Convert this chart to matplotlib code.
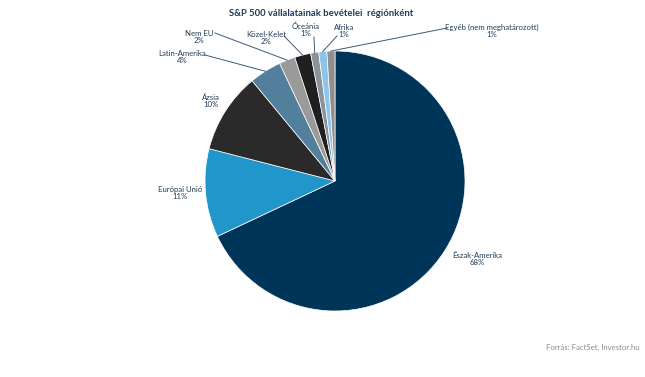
import numpy as np
import matplotlib
matplotlib.use('Agg')
import matplotlib.pyplot as plt

plt.rcParams['font.family'] = ['Lato', 'DejaVu Sans']

# data
regions = ['Észak-Amerika', 'Európai Unió', 'Ázsia', 'Latin-Amerika', 'Nem EU',
           'Közel-Kelet', 'Óceánia', 'Afrika', 'Egyéb (nem meghatározott)']
shares = [68, 11, 10, 4, 2, 2, 1, 1, 1]
colors = ['#00355a', '#2196ca', '#2a2a2a', '#527f9c', '#9a9a9a',
          '#1f1f1f', '#8a939c', '#8ec4ea', '#8f8f8f']

# label text positions (pixels, from the top) and leader line ends
label_pos = [(477, 259), (180, 193), (211, 101), (182, 57), (199, 37),
             (266, 38), (306, 30), (344, 31), (492, 31)]
leader = [False, False, False, True, True, True, True, True, True]
leader_end = [None, None, None, (205, 55), (215, 33), (284, 36), (314, 37), (337, 36), (447, 28)]

W, H = 645, 377
fig = plt.figure(figsize=(W / 100, H / 100), dpi=100)
ax = fig.add_axes([0, 0, 1, 1])

cx, cy, r = 335, H - 181, 130
wedges, _ = ax.pie(shares, colors=colors, startangle=90, counterclock=False,
                   center=(cx, cy), radius=r, frame=True,
                   wedgeprops=dict(edgecolor='white', linewidth=0.5))
ax.set_xlim(0, W)
ax.set_ylim(0, H)
ax.set_aspect('equal')
ax.axis('off')

txt_color = '#1f3b57'
for w, name, val, pos, lead, end in zip(wedges, regions, shares, label_pos, leader, leader_end):
    tx, ty = pos[0], H - pos[1]
    ax.text(tx, ty, f'{name}\n{val}%', ha='center', va='center', fontsize=5.6,
            color=txt_color, linespacing=1.05)
    if lead:
        ang = np.deg2rad((w.theta1 + w.theta2) / 2)
        x0, y0 = cx + r * np.cos(ang), cy + r * np.sin(ang)
        ax.plot([x0, end[0]], [y0, H - end[1]], color='#3d5a75', lw=0.7)

fig.text(321 / W, 1 - 13 / H, 'S&P 500 vállalatainak bevételei  régiónként', ha='center', va='center',
         fontsize=6.8, fontweight='bold', color=txt_color)
fig.text(639 / W, 1 - 347 / H, 'Forrás: FactSet, Investor.hu', ha='right', va='center',
         fontsize=5.6, color='#8a8a8a')

fig.savefig('out.png', dpi=100)
